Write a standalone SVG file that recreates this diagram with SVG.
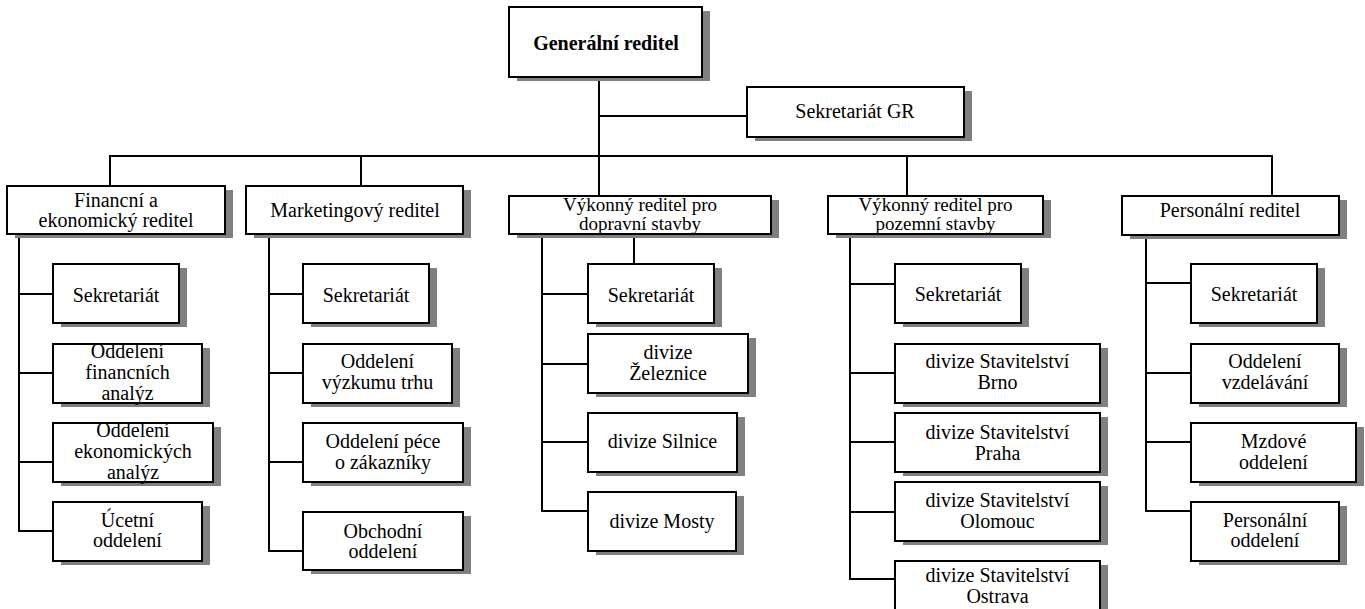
<svg xmlns="http://www.w3.org/2000/svg" width="1365" height="609" viewBox="0 0 1365 609">
<style>
.bg{fill:#ffffff}
.sh{fill:#808080}
.bx{fill:#ffffff;stroke:#000000;stroke-width:2}
.t{font-family:"Liberation Serif","Times New Roman",serif;font-size:20px;fill:#000000;text-anchor:middle}
.s{font-size:19px}
.b{font-weight:bold}
.c{fill:none;stroke:#000000;stroke-width:2;stroke-linecap:square}
</style>
<rect class="bg" x="0" y="0" width="1365" height="609"/>
<g id="connectors">
<path class="c" d="M599,77V196M599,116H747M110,156H1272M110,156V186M361,156V186M907,156V196M1272,156V196"/>
<path class="c" d="M19,234V531H53M19,294H53M19,373H53M19,462H53"/>
<path class="c" d="M269,234V551H303M269,294H303M269,373H303M269,462H303"/>
<path class="c" d="M542,234V511H588M542,294H588M542,364H588M542,442H588M634,234V264"/>
<path class="c" d="M850,234V579H895M850,284H895M850,373H895M850,442H895M850,512H895"/>
<path class="c" d="M1146,235V511H1191M1146,283H1191M1146,373H1191M1146,442H1191"/>
</g>
<g id="gr"><rect class="sh" x="517" y="11" width="193" height="70"/><rect class="bx" x="509" y="7" width="193" height="70"/><text class="t b" x="606" y="50">Generální reditel</text></g>
<g id="sgr"><rect class="sh" x="755" y="91" width="217" height="50"/><rect class="bx" x="747" y="87" width="217" height="50"/><text class="t" x="855" y="118">Sekretariát GR</text></g>
<g id="fin"><rect class="sh" x="15" y="190" width="218" height="48"/><rect class="bx" x="7" y="186" width="218" height="48"/><text class="t" x="116" y="207">Financní a</text><text class="t" x="116" y="227">ekonomický reditel</text></g>
<g id="mkt"><rect class="sh" x="254" y="190" width="217" height="48"/><rect class="bx" x="246" y="186" width="217" height="48"/><text class="t" x="355" y="217">Marketingový reditel</text></g>
<g id="dop"><rect class="sh" x="517" y="200" width="262" height="38"/><rect class="bx" x="509" y="196" width="262" height="38"/><text class="t s" x="640" y="211">Výkonný reditel pro</text><text class="t s" x="640" y="230">dopravní stavby</text></g>
<g id="poz"><rect class="sh" x="836" y="200" width="215" height="38"/><rect class="bx" x="828" y="196" width="215" height="38"/><text class="t s" x="935.5" y="211">Výkonný reditel pro</text><text class="t s" x="935.5" y="230">pozemní stavby</text></g>
<g id="per"><rect class="sh" x="1130" y="200" width="217" height="39"/><rect class="bx" x="1122" y="196" width="217" height="39"/><text class="t" x="1230" y="217">Personální reditel</text></g>
<g id="f1"><rect class="sh" x="61" y="268" width="126" height="59"/><rect class="bx" x="53" y="264" width="126" height="59"/><text class="t" x="116" y="302">Sekretariát</text></g>
<g id="f2"><rect class="sh" x="61" y="348" width="149" height="59"/><rect class="bx" x="53" y="344" width="149" height="59"/><text class="t" x="127.5" y="358">Oddelení</text><text class="t" x="127.5" y="379">financních</text><text class="t" x="127.5" y="400">analýz</text></g>
<g id="f3"><rect class="sh" x="61" y="427" width="160" height="59"/><rect class="bx" x="53" y="423" width="160" height="59"/><text class="t" x="133" y="437">Oddelení</text><text class="t" x="133" y="458">ekonomických</text><text class="t" x="133" y="479">analýz</text></g>
<g id="f4"><rect class="sh" x="61" y="506" width="149" height="59"/><rect class="bx" x="53" y="502" width="149" height="59"/><text class="t" x="127.5" y="527">Úcetní</text><text class="t" x="127.5" y="547">oddelení</text></g>
<g id="m1"><rect class="sh" x="311" y="268" width="126" height="59"/><rect class="bx" x="303" y="264" width="126" height="59"/><text class="t" x="366" y="302">Sekretariát</text></g>
<g id="m2"><rect class="sh" x="311" y="348" width="149" height="59"/><rect class="bx" x="303" y="344" width="149" height="59"/><text class="t" x="377.5" y="368">Oddelení</text><text class="t" x="377.5" y="389">výzkumu trhu</text></g>
<g id="m3"><rect class="sh" x="311" y="427" width="160" height="59"/><rect class="bx" x="303" y="423" width="160" height="59"/><text class="t" x="383" y="448">Oddelení péce</text><text class="t" x="383" y="469">o zákazníky</text></g>
<g id="m4"><rect class="sh" x="311" y="516" width="160" height="58"/><rect class="bx" x="303" y="512" width="160" height="58"/><text class="t" x="383" y="538">Obchodní</text><text class="t" x="383" y="558">oddelení</text></g>
<g id="d1"><rect class="sh" x="596" y="268" width="126" height="59"/><rect class="bx" x="588" y="264" width="126" height="59"/><text class="t" x="651" y="302">Sekretariát</text></g>
<g id="d2"><rect class="sh" x="596" y="338" width="160" height="59"/><rect class="bx" x="588" y="334" width="160" height="59"/><text class="t" x="668" y="359">divize</text><text class="t" x="668" y="380">Železnice</text></g>
<g id="d3"><rect class="sh" x="596" y="417" width="149" height="59"/><rect class="bx" x="588" y="413" width="149" height="59"/><text class="t" x="662.5" y="448">divize Silnice</text></g>
<g id="d4"><rect class="sh" x="596" y="496" width="148" height="59"/><rect class="bx" x="588" y="492" width="148" height="59"/><text class="t" x="662" y="528">divize Mosty</text></g>
<g id="p1"><rect class="sh" x="903" y="268" width="126" height="59"/><rect class="bx" x="895" y="264" width="126" height="59"/><text class="t" x="958" y="301">Sekretariát</text></g>
<g id="p2"><rect class="sh" x="903" y="348" width="205" height="59"/><rect class="bx" x="895" y="344" width="205" height="59"/><text class="t" x="997.5" y="368">divize Stavitelství</text><text class="t" x="997.5" y="389">Brno</text></g>
<g id="p3"><rect class="sh" x="903" y="417" width="205" height="59"/><rect class="bx" x="895" y="413" width="205" height="59"/><text class="t" x="997.5" y="439">divize Stavitelství</text><text class="t" x="997.5" y="460">Praha</text></g>
<g id="p4"><rect class="sh" x="903" y="486" width="205" height="59"/><rect class="bx" x="895" y="482" width="205" height="59"/><text class="t" x="997.5" y="507">divize Stavitelství</text><text class="t" x="997.5" y="528">Olomouc</text></g>
<g id="p5"><rect class="sh" x="903" y="565" width="205" height="60"/><rect class="bx" x="895" y="561" width="205" height="60"/><text class="t" x="997.5" y="582">divize Stavitelství</text><text class="t" x="997.5" y="603">Ostrava</text></g>
<g id="r1"><rect class="sh" x="1199" y="268" width="126" height="59"/><rect class="bx" x="1191" y="264" width="126" height="59"/><text class="t" x="1254" y="301">Sekretariát</text></g>
<g id="r2"><rect class="sh" x="1199" y="348" width="148" height="59"/><rect class="bx" x="1191" y="344" width="148" height="59"/><text class="t" x="1265" y="368">Oddelení</text><text class="t" x="1265" y="389">vzdelávání</text></g>
<g id="r3"><rect class="sh" x="1199" y="427" width="165" height="59"/><rect class="bx" x="1191" y="423" width="165" height="59"/><text class="t" x="1273.5" y="448">Mzdové</text><text class="t" x="1273.5" y="469">oddelení</text></g>
<g id="r4"><rect class="sh" x="1199" y="506" width="148" height="59"/><rect class="bx" x="1191" y="502" width="148" height="59"/><text class="t" x="1265" y="527">Personální</text><text class="t" x="1265" y="547">oddelení</text></g>
</svg>
